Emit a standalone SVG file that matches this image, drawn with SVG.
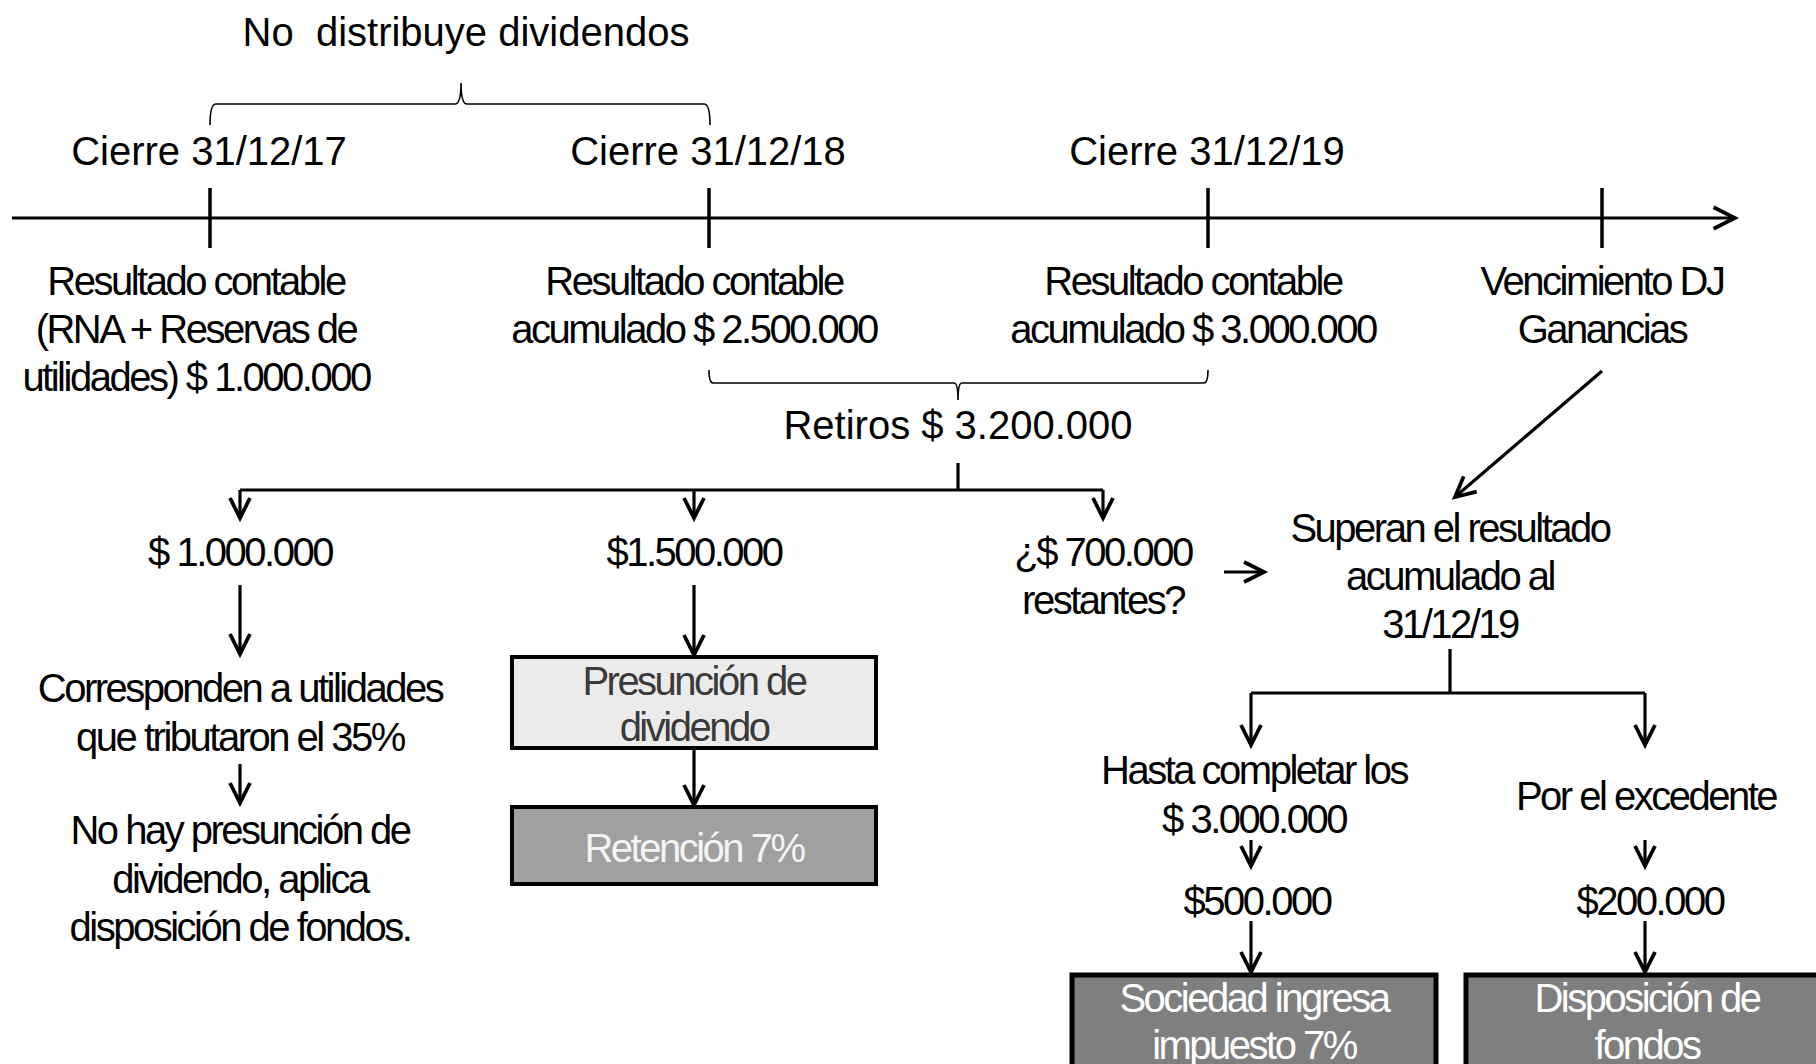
<svg xmlns="http://www.w3.org/2000/svg" width="1816" height="1064" viewBox="0 0 1816 1064">
<defs>
<style>
text{font-family:"Liberation Sans",Arial,sans-serif;font-size:40px;fill:#000;text-anchor:middle}
.c{letter-spacing:-2.5px}
.ln{stroke:#000;stroke-width:3.2;fill:none}
.thin{stroke:#000;stroke-width:1.6;fill:none}
.tick{stroke:#000;stroke-width:3.5}
.box{stroke:#000;stroke-width:4}
</style>
<marker id="ah" markerUnits="userSpaceOnUse" markerWidth="30" markerHeight="30" viewBox="-20 -12 24 24" refX="0" refY="0" orient="auto">
<path d="M-16,-8 L0,0 L-16,8" fill="none" stroke="#000" stroke-width="3"/>
</marker>
<marker id="ahT" markerUnits="userSpaceOnUse" markerWidth="30" markerHeight="30" viewBox="-24 -14 28 28" refX="0" refY="0" orient="auto">
<path d="M-20,-10 L0,0 L-20,10" fill="none" stroke="#000" stroke-width="3.5"/>
</marker>
</defs>
<rect width="1816" height="1064" fill="#fff"/>

<g id="timeline">
<line class="ln" x1="12" y1="218" x2="1735" y2="218" marker-end="url(#ahT)"/>
<line class="tick" x1="210" y1="188" x2="210" y2="248"/>
<line class="tick" x1="709" y1="188" x2="709" y2="248"/>
<line class="tick" x1="1208" y1="188" x2="1208" y2="248"/>
<line class="tick" x1="1602" y1="188" x2="1602" y2="248"/>
</g>

<g id="no-distribuye">
<text x="466" y="46" xml:space="preserve">No  distribuye dividendos</text>
<path class="thin" d="M210,125 Q210,104 216,104 L455,104 Q461,104 461,83 Q461,104 467,104 L704,104 Q710,104 710,125"/>
</g>

<g id="cierre17"><text x="209" y="165">Cierre 31/12/17</text></g>
<g id="cierre18"><text x="708" y="165">Cierre 31/12/18</text></g>
<g id="cierre19"><text x="1207" y="165">Cierre 31/12/19</text></g>

<g id="res17">
<text class="c" x="196" y="295">Resultado contable</text>
<text class="c" x="196" y="343">(RNA + Reservas de</text>
<text class="c" x="196" y="391">utilidades) $ 1.000.000</text>
</g>
<g id="res18">
<text class="c" x="694" y="295">Resultado contable</text>
<text class="c" x="694" y="343">acumulado $ 2.500.000</text>
</g>
<g id="res19">
<text class="c" x="1193" y="295">Resultado contable</text>
<text class="c" x="1193" y="343">acumulado $ 3.000.000</text>
</g>
<g id="vencimiento">
<text class="c" x="1602" y="295">Vencimiento DJ</text>
<text class="c" x="1602" y="343">Ganancias</text>
</g>

<g id="retiros">
<path class="thin" d="M709,370 Q709,383 713,383 L954,383 Q958,383 958,400 Q958,383 962,383 L1204,383 Q1208,383 1208,370"/>
<text x="958" y="439">Retiros $ 3.200.000</text>
</g>

<g id="m1000"><text class="c" x="240" y="566">$ 1.000.000</text></g>
<g id="m1500"><text class="c" x="694" y="566">$1.500.000</text></g>
<g id="m700">
<text class="c" x="1103" y="566">¿$ 700.000</text>
<text class="c" x="1103" y="614">restantes?</text>
</g>
<g id="superan">
<text class="c" x="1450" y="542">Superan el resultado</text>
<text class="c" x="1450" y="590">acumulado al</text>
<text class="c" x="1450" y="638">31/12/19</text>
</g>
<g id="corresponden">
<text class="c" x="240" y="702">Corresponden a utilidades</text>
<text class="c" x="240" y="751">que tributaron el 35%</text>
</g>
<g id="nohay">
<text class="c" x="240" y="844">No hay presunción de</text>
<text class="c" x="240" y="893">dividendo, aplica</text>
<text class="c" x="240" y="941">disposición de fondos.</text>
</g>
<g id="presuncion">
<rect class="box" x="512" y="657" width="364" height="91" fill="#ebebeb"/>
<text class="c" x="694" y="695" style="fill:#3a3a3a">Presunción de</text>
<text class="c" x="694" y="741" style="fill:#3a3a3a">dividendo</text>
</g>
<g id="retencion">
<rect class="box" x="512" y="807" width="364" height="77" fill="#a0a0a0"/>
<text class="c" x="694" y="862" style="fill:#f4f4f4">Retención 7%</text>
</g>
<g id="hasta">
<text class="c" x="1254" y="784">Hasta completar los</text>
<text class="c" x="1254" y="833">$ 3.000.000</text>
</g>
<g id="excedente"><text class="c" x="1646" y="810">Por el excedente</text></g>
<g id="m500"><text class="c" x="1257" y="915">$500.000</text></g>
<g id="m200"><text class="c" x="1650" y="915">$200.000</text></g>
<g id="sociedad">
<rect x="1072" y="975" width="364" height="110" fill="#7f7f7f" stroke="#000" stroke-width="5"/>
<text class="c" x="1254" y="1012" style="fill:#fff">Sociedad ingresa</text>
<text class="c" x="1254" y="1059" style="fill:#fff">impuesto 7%</text>
</g>
<g id="disposicion">
<rect x="1466" y="975" width="370" height="110" fill="#7f7f7f" stroke="#000" stroke-width="5"/>
<text class="c" x="1647" y="1012" style="fill:#fff">Disposición de</text>
<text class="c" x="1647" y="1059" style="fill:#fff">fondos</text>
</g>

<g id="connectors">
<line class="ln" x1="958" y1="463" x2="958" y2="490"/>
<line class="ln" x1="240" y1="490" x2="1103" y2="490"/>
<line class="ln" x1="240" y1="490" x2="240" y2="518" marker-end="url(#ah)"/>
<line class="ln" x1="694" y1="490" x2="694" y2="518" marker-end="url(#ah)"/>
<line class="ln" x1="1103" y1="490" x2="1103" y2="518" marker-end="url(#ah)"/>
<line class="ln" x1="1224" y1="572" x2="1264" y2="572" marker-end="url(#ah)"/>
<line class="ln" x1="1602" y1="371" x2="1455" y2="497" marker-end="url(#ah)"/>
<line class="ln" x1="240" y1="585" x2="240" y2="654" marker-end="url(#ah)"/>
<line class="ln" x1="240" y1="764" x2="240" y2="803" marker-end="url(#ah)"/>
<line class="ln" x1="694" y1="585" x2="694" y2="655" marker-end="url(#ah)"/>
<line class="ln" x1="694" y1="750" x2="694" y2="805" marker-end="url(#ah)"/>
<line class="ln" x1="1450" y1="649" x2="1450" y2="693"/>
<line class="ln" x1="1251" y1="693" x2="1645" y2="693"/>
<line class="ln" x1="1251" y1="693" x2="1251" y2="745" marker-end="url(#ah)"/>
<line class="ln" x1="1645" y1="693" x2="1645" y2="745" marker-end="url(#ah)"/>
<line class="ln" x1="1251" y1="840" x2="1251" y2="866" marker-end="url(#ah)"/>
<line class="ln" x1="1645" y1="840" x2="1645" y2="866" marker-end="url(#ah)"/>
<line class="ln" x1="1251" y1="921" x2="1251" y2="972" marker-end="url(#ah)"/>
<line class="ln" x1="1645" y1="921" x2="1645" y2="972" marker-end="url(#ah)"/>
</g>
</svg>
